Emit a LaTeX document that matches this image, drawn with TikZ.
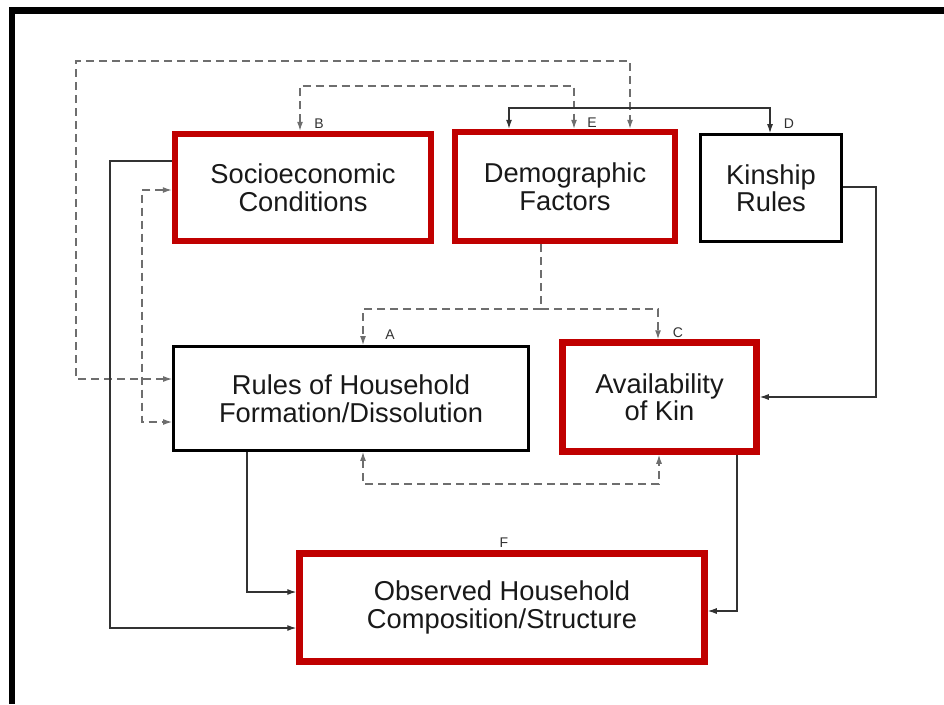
\documentclass[tikz,border=0pt]{standalone}
\usepackage{fontspec}
\setmainfont{Liberation Sans}
\usetikzlibrary{arrows.meta}
\definecolor{boxred}{RGB}{192,0,0}
\definecolor{dashgray}{RGB}{110,110,110}
\definecolor{linegray}{RGB}{50,50,50}
\definecolor{textgray}{RGB}{25,25,25}
\tikzset{
  redbox/.style={draw=boxred, line width=6.5pt, align=center, inner sep=0pt, text=textgray, font=\fontsize{27.3}{27.5}\selectfont},
  blackbox/.style={draw=black, line width=2.8pt, align=center, inner sep=0pt, text=textgray, font=\fontsize{27.3}{27.5}\selectfont},
  tip/.tip={Latex[length=9pt,width=6pt]},
  conn/.style={draw=linegray, line width=1.1pt, -tip},
  bconn/.style={draw=linegray, line width=1.1pt, tip-tip},
  dconn/.style={draw=dashgray, line width=1.2pt, dash pattern=on 8pt off 5pt, -tip},
  dbconn/.style={draw=dashgray, line width=1.2pt, dash pattern=on 8pt off 5pt, tip-tip},
  dline/.style={draw=dashgray, line width=1.2pt, dash pattern=on 8pt off 5pt},
  lbl/.style={font=\fontsize{14}{14}\selectfont, inner sep=0pt, text=linegray}
}
\begin{document}
\begin{tikzpicture}[x=1pt,y=-1pt]
\useasboundingbox (0,0) rectangle (944,704);
% frame
\fill[black] (9,7) rectangle (944,14);
\fill[black] (9,7) rectangle (15,704);
% boxes
\node[redbox, minimum width=256pt, minimum height=107pt] (soc) at (303,187.5) {Socioeconomic\\Conditions};
\node[redbox, minimum width=220pt, minimum height=109pt] (demo) at (565,186.5) {Demographic\\Factors};
\node[blackbox, minimum width=141pt, minimum height=107pt] (kin) at (771,188) {Kinship\\Rules};
\node[blackbox, minimum width=355pt, minimum height=104pt] (rules) at (351,398.5) {Rules of Household\\Formation/Dissolution};
\node[redbox, minimum width=194pt, minimum height=109pt] (avail) at (659.5,397) {Availability\\of Kin};
\node[redbox, minimum width=405pt, minimum height=108pt] (obs) at (502,607.5) {Observed Household\\Composition/Structure};
% labels
\node[lbl] (lB) at (319,124) {B};
\node[lbl] (lE) at (592,123) {E};
\node[lbl] (lD) at (789,124) {D};
\node[lbl] (lA) at (390,335) {A};
\node[lbl] (lC) at (678,333) {C};
\node[lbl] (lF) at (504,543) {F};
% top connectors
\draw[dbconn] (rules.west |- 0,379) -- (76,379) -- (76,61) -- (630,61) -- (630,0 |- demo.north);
\draw[dbconn] (300,0 |- soc.north) -- (300,86) -- (574,86) -- (574,0 |- demo.north);
\draw[bconn] (509,0 |- demo.north) -- (509,108) -- (770,108) -- (770,0 |- kin.north);
% left connectors
\draw[conn] (soc.west |- 0,161) -- (110,161) -- (110,628) -- (obs.west |- 0,628);
\draw[dbconn] (soc.west |- 0,190) -- (142,190) -- (142,422) -- (rules.west |- 0,422);
% demographic to rules / availability
\coordinate (split) at (541,309);
\draw[dline] (541,0 |- demo.south) -- (split);
\draw[dconn] (split) -- (363,309) -- (363,0 |- rules.north);
\draw[dconn] (split) -- (658,309) -- (658,0 |- avail.north);
% kinship to availability
\draw[conn] (kin.east |- 0,187) -- (876,187) -- (876,397) -- (avail.east |- 0,397);
% bottom connectors
\draw[dbconn] (363,0 |- rules.south) -- (363,484) -- (659,484) -- (659,0 |- avail.south);
\draw[conn] (247,0 |- rules.south) -- (247,592) -- (obs.west |- 0,592);
\draw[conn] (737,0 |- avail.south) -- (737,611) -- (obs.east |- 0,611);
\end{tikzpicture}
\end{document}
